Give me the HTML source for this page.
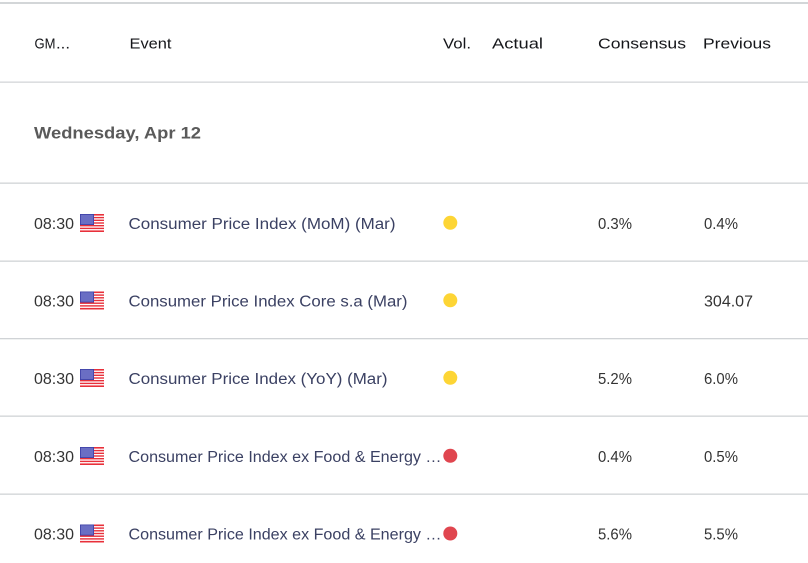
<!DOCTYPE html>
<html>
<head>
<meta charset="utf-8">
<style>
html,body{margin:0;padding:0;background:#fff;}
svg{display:block;}
text{font-family:"Liberation Sans",sans-serif;}
</style>
</head>
<body>
<svg width="808" height="563" viewBox="0 0 808 563" xmlns="http://www.w3.org/2000/svg">
<defs>
<g id="flag">
<rect x="0" y="0" width="24" height="18" fill="#fff"/>
<rect x="0" y="0" width="24" height="1.6" fill="#e8303a"/>
<rect x="0" y="2.9" width="24" height="1.4" fill="#e8303a"/>
<rect x="0" y="5.6" width="24" height="1.4" fill="#e8303a"/>
<rect x="0" y="8.3" width="24" height="1.4" fill="#e8303a"/>
<rect x="0" y="11" width="24" height="1.4" fill="#e8303a"/>
<rect x="0" y="13.7" width="24" height="1.4" fill="#e8303a"/>
<rect x="0" y="16.4" width="24" height="1.6" fill="#e8303a"/>
<rect x="0" y="0" width="14" height="11" fill="#3c3fa6"/>
<rect x="0.8" y="0.8" width="12.4" height="9.4" fill="#6a6ec4"/>
</g>
</defs>

<!-- lines -->
<rect x="0" y="2" width="808" height="2" fill="#d3d6d8"/>
<rect x="0" y="81.5" width="808" height="1.3" fill="#d3d6d8"/>
<rect x="0" y="182.5" width="808" height="1.3" fill="#d0d3d6"/>
<rect x="0" y="260.5" width="808" height="1.3" fill="#d0d3d6"/>
<rect x="0" y="338" width="808" height="1.3" fill="#d0d3d6"/>
<rect x="0" y="415.5" width="808" height="1.3" fill="#d0d3d6"/>
<rect x="0" y="493.5" width="808" height="1.3" fill="#d0d3d6"/>

<!-- header -->
<g fill="#15161a" font-size="15">
<text x="34.5" y="48.7" textLength="21" lengthAdjust="spacingAndGlyphs">GM</text>
<text x="56" y="48.7" textLength="14" lengthAdjust="spacingAndGlyphs">...</text>
<text x="129.5" y="48.7" textLength="42" lengthAdjust="spacingAndGlyphs">Event</text>
<text x="443" y="48.7" textLength="28" lengthAdjust="spacingAndGlyphs">Vol.</text>
<text x="492" y="48.7" textLength="51" lengthAdjust="spacingAndGlyphs">Actual</text>
<text x="598" y="48.7" textLength="88" lengthAdjust="spacingAndGlyphs">Consensus</text>
<text x="703" y="48.7" textLength="68" lengthAdjust="spacingAndGlyphs">Previous</text>
</g>

<!-- date -->
<text x="34" y="138.7" font-size="17" font-weight="bold" fill="#5a5a5a" textLength="167" lengthAdjust="spacingAndGlyphs">Wednesday, Apr 12</text>

<!-- rows -->
<g font-size="15.5">
<!-- row 1 -->
<text x="34" y="229" fill="#333" textLength="40" lengthAdjust="spacingAndGlyphs">08:30</text>
<use href="#flag" x="80" y="214"/>
<text x="128.5" y="229" fill="#3b4163" textLength="267" lengthAdjust="spacingAndGlyphs">Consumer Price Index (MoM) (Mar)</text>
<circle cx="450.3" cy="222.8" r="7" fill="#fdd535"/>
<text x="598" y="229" fill="#333" textLength="34" lengthAdjust="spacingAndGlyphs">0.3%</text>
<text x="704" y="229" fill="#333" textLength="34" lengthAdjust="spacingAndGlyphs">0.4%</text>

<!-- row 2 -->
<text x="34" y="306.5" fill="#333" textLength="40" lengthAdjust="spacingAndGlyphs">08:30</text>
<use href="#flag" x="80" y="291.5"/>
<text x="128.5" y="306.5" fill="#3b4163" textLength="279" lengthAdjust="spacingAndGlyphs">Consumer Price Index Core s.a (Mar)</text>
<circle cx="450.3" cy="300.3" r="7" fill="#fdd535"/>
<text x="704" y="306.5" fill="#333" textLength="49" lengthAdjust="spacingAndGlyphs">304.07</text>

<!-- row 3 -->
<text x="34" y="384" fill="#333" textLength="40" lengthAdjust="spacingAndGlyphs">08:30</text>
<use href="#flag" x="80" y="369"/>
<text x="128.5" y="384" fill="#3b4163" textLength="259" lengthAdjust="spacingAndGlyphs">Consumer Price Index (YoY) (Mar)</text>
<circle cx="450.3" cy="377.8" r="7" fill="#fdd535"/>
<text x="598" y="384" fill="#333" textLength="34" lengthAdjust="spacingAndGlyphs">5.2%</text>
<text x="704" y="384" fill="#333" textLength="34" lengthAdjust="spacingAndGlyphs">6.0%</text>

<!-- row 4 -->
<text x="34" y="462" fill="#333" textLength="40" lengthAdjust="spacingAndGlyphs">08:30</text>
<use href="#flag" x="80" y="447"/>
<text x="128.5" y="462" fill="#3b4163" textLength="313" lengthAdjust="spacingAndGlyphs">Consumer Price Index ex Food &amp; Energy …</text>
<circle cx="450.3" cy="455.8" r="7" fill="#e0464f"/>
<text x="598" y="462" fill="#333" textLength="34" lengthAdjust="spacingAndGlyphs">0.4%</text>
<text x="704" y="462" fill="#333" textLength="34" lengthAdjust="spacingAndGlyphs">0.5%</text>

<!-- row 5 -->
<text x="34" y="539.5" fill="#333" textLength="40" lengthAdjust="spacingAndGlyphs">08:30</text>
<use href="#flag" x="80" y="524.5"/>
<text x="128.5" y="539.5" fill="#3b4163" textLength="313" lengthAdjust="spacingAndGlyphs">Consumer Price Index ex Food &amp; Energy …</text>
<circle cx="450.3" cy="533.5" r="7" fill="#e0464f"/>
<text x="598" y="539.5" fill="#333" textLength="34" lengthAdjust="spacingAndGlyphs">5.6%</text>
<text x="704" y="539.5" fill="#333" textLength="34" lengthAdjust="spacingAndGlyphs">5.5%</text>
</g>
</svg>
</body>
</html>
